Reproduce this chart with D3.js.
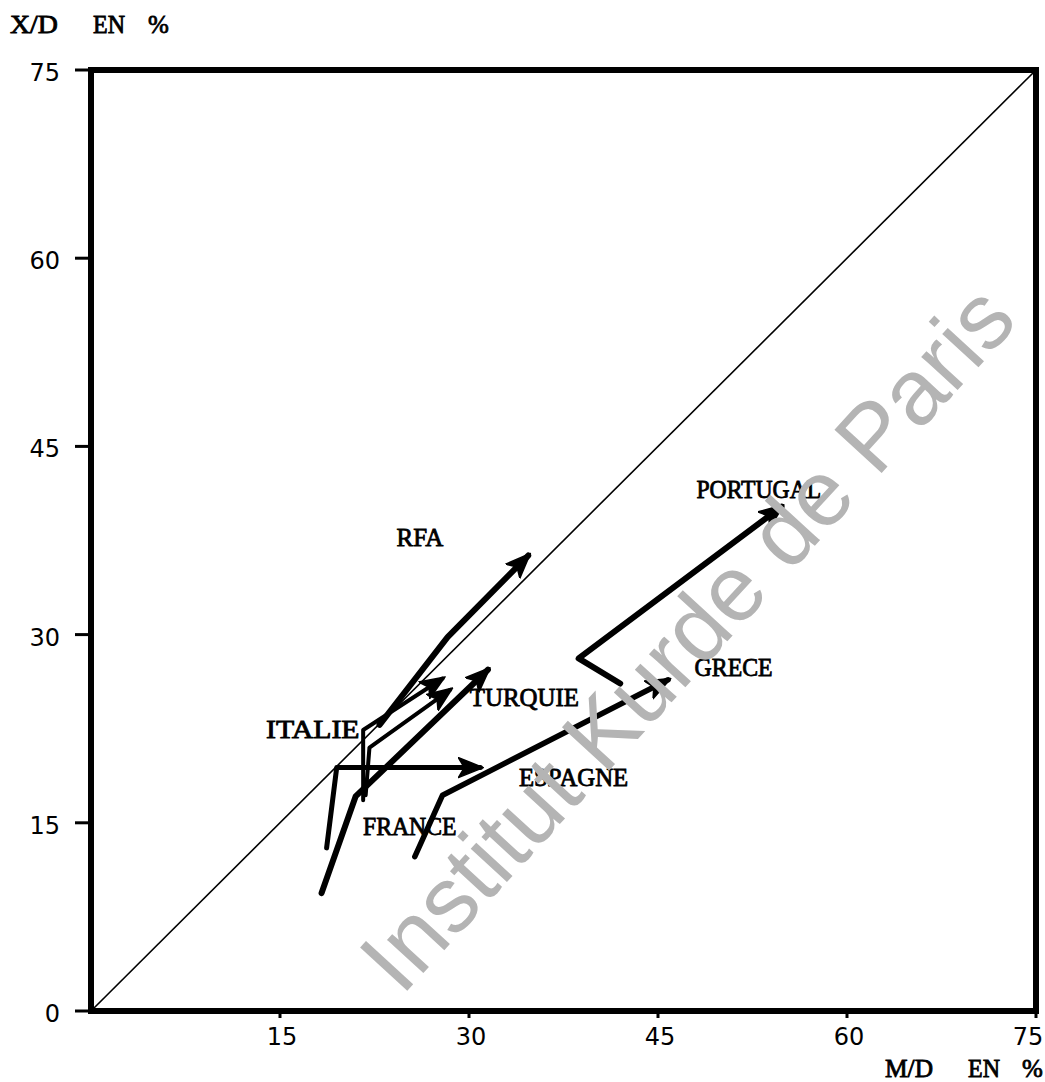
<!DOCTYPE html>
<html>
<head>
<meta charset="utf-8">
<script src="https://cdn.jsdelivr.net/npm/d3@7"></script>
<style>
  html, body { margin: 0; padding: 0; background: #fff; }
  svg { display: block; }
  .lbl { font-family: "Liberation Serif", "DejaVu Serif", serif; font-size: 25px; fill: #000; stroke: #000; stroke-width: 0.8px; }
  .tick-lbl { font-family: "DejaVu Sans", sans-serif; font-size: 24px; fill: #000; }
  .wm { font-family: "Liberation Sans", Arial, sans-serif; font-size: 93px; fill: #b4b4b4; }
</style>
</head>
<body>
<svg id="chart" width="1045" height="1082"></svg>
<script>
// M/D (x) and X/D (y) in %, three successive points per country, arrow on the last
const countries = ['RFA', 'ITALIE', 'FRANCE', 'TURQUIE', 'ESPAGNE', 'GRECE', 'PORTUGAL'];
const mdValues = [
  [22.9, 28.3, 34.7],
  [21.6, 21.6, 27.9],
  [21.8, 22.1, 28.5],
  [18.3, 21.0, 31.5],
  [18.7, 19.5, 30.9],
  [25.7, 27.9, 45.8],
  [42.0, 38.7, 54.8],
];
const xdValues = [
  [22.8, 29.8, 36.3],
  [16.8, 22.4, 26.5],
  [17.2, 21.0, 25.6],
  [9.4, 17.1, 27.2],
  [13.0, 19.4, 19.4],
  [12.3, 17.2, 26.4],
  [26.1, 28.1, 40.2],
];
// where each name sits (centre of the word), same units
const labelMD = [26.1, 17.6, 25.3, 34.4, 38.3, 51.0, 53.0];
const labelXD = [37.7, 22.4, 14.7, 25.0, 18.6, 27.4, 41.6];
const tickValues = [0, 15, 30, 45, 60, 75];

const lineWidth = { RFA: 6, ITALIE: 4, FRANCE: 4, TURQUIE: 6, ESPAGNE: 5, GRECE: 5.5, PORTUGAL: 6 };

const svg = d3.select('#chart');
const plotL = 91, plotR = 1036, plotT = 70, plotB = 1011;

const x = d3.scaleLinear().domain([0, 75]).range([plotL, plotR]);
const y = d3.scaleLinear().domain([0, 75]).range([plotB, plotT]);

svg.append('defs')
  .append('marker')
  .attr('id', 'head')
  .attr('markerUnits', 'userSpaceOnUse')
  .attr('viewBox', '0 -11 26 22')
  .attr('markerWidth', 26)
  .attr('markerHeight', 22)
  .attr('refX', 22)
  .attr('refY', 0)
  .attr('orient', 'auto')
  .append('path')
  .attr('d', 'M0,-10 L25,0 L0,10 L6,0 Z')
  .attr('fill', '#000')
  .attr('stroke', '#000')
  .attr('stroke-width', 1.5)
  .attr('stroke-linejoin', 'round');

// diagonal M/D = X/D
svg.append('line')
  .attr('x1', x(0)).attr('y1', y(0))
  .attr('x2', x(75)).attr('y2', y(75))
  .attr('stroke', '#000')
  .attr('stroke-width', 1.6);

// frame
svg.append('rect')
  .attr('x', plotL).attr('y', plotT)
  .attr('width', plotR - plotL).attr('height', plotB - plotT)
  .attr('fill', 'none')
  .attr('stroke', '#000')
  .attr('stroke-width', 6);

// y ticks: short marks to the left
svg.append('g')
  .selectAll('line')
  .data(tickValues)
  .enter()
  .append('line')
  .attr('x1', plotL - 16).attr('x2', plotL)
  .attr('y1', (d) => y(d)).attr('y2', (d) => y(d))
  .attr('stroke', '#000')
  .attr('stroke-width', 3);

svg.append('g')
  .selectAll('text')
  .data(tickValues)
  .enter()
  .append('text')
  .attr('class', 'tick-lbl')
  .attr('x', 60)
  .attr('y', (d) => y(d) + 3)
  .attr('text-anchor', 'end')
  .attr('dominant-baseline', 'central')
  .text((d) => d);

// x ticks: small marks under the axis
svg.append('g')
  .selectAll('line')
  .data(tickValues.slice(1))
  .enter()
  .append('line')
  .attr('x1', (d) => x(d)).attr('x2', (d) => x(d))
  .attr('y1', plotB).attr('y2', plotB + 7)
  .attr('stroke', '#000')
  .attr('stroke-width', 3);

svg.append('g')
  .selectAll('text')
  .data(tickValues.slice(1))
  .enter()
  .append('text')
  .attr('class', 'tick-lbl')
  .attr('x', (d) => (d === 75 ? x(d) - 8 : x(d) + 2))
  .attr('y', 1045)
  .attr('text-anchor', 'middle')
  .text((d) => d);

// axis titles, typed in three pieces
const titleParts = [
  { t: 'X/D', px: 10, py: 33 }, { t: 'EN', px: 93, py: 33 }, { t: '%', px: 148, py: 33 },
  { t: 'M/D', px: 885, py: 1077 }, { t: 'EN', px: 968, py: 1077 }, { t: '%', px: 1022, py: 1077 },
];
svg.append('g')
  .selectAll('text')
  .data(titleParts)
  .enter()
  .append('text')
  .attr('class', 'lbl')
  .attr('x', (d) => d.px)
  .attr('y', (d) => d.py)
  .attr('textLength', (d) => (d.t.length > 1 ? d.t.length * 16 : null))
  .attr('lengthAdjust', 'spacingAndGlyphs')
  .text((d) => d.t);

// paths
const paths = countries.map((c, i) => ({
  name: c,
  pts: mdValues[i].map((m, j) => [m, xdValues[i][j]]),
}));

const line = d3.line().x((d) => x(d[0])).y((d) => y(d[1]));

svg.append('g')
  .selectAll('path')
  .data(paths)
  .enter()
  .append('path')
  .attr('d', (d) => line(d.pts))
  .attr('fill', 'none')
  .attr('stroke', '#000')
  .attr('stroke-width', (d) => lineWidth[d.name])
  .attr('stroke-linejoin', 'round')
  .attr('stroke-linecap', 'round')
  .attr('marker-end', 'url(#head)');

svg.append('g')
  .selectAll('text')
  .data(countries)
  .enter()
  .append('text')
  .attr('class', 'lbl')
  .attr('x', (d, i) => x(labelMD[i]))
  .attr('y', (d, i) => y(labelXD[i]))
  .attr('text-anchor', 'middle')
  .attr('dominant-baseline', 'central')
  .attr('textLength', (d) => d.length * 15.6)
  .attr('lengthAdjust', 'spacingAndGlyphs')
  .text((d) => d);

// watermark across the plot
svg.append('text')
  .attr('class', 'wm')
  .attr('transform', 'translate(687,638) rotate(-47.5)')
  .attr('text-anchor', 'middle')
  .attr('dominant-baseline', 'central')
  .text('Institut Kurde de Paris');
</script>
</body>
</html>
